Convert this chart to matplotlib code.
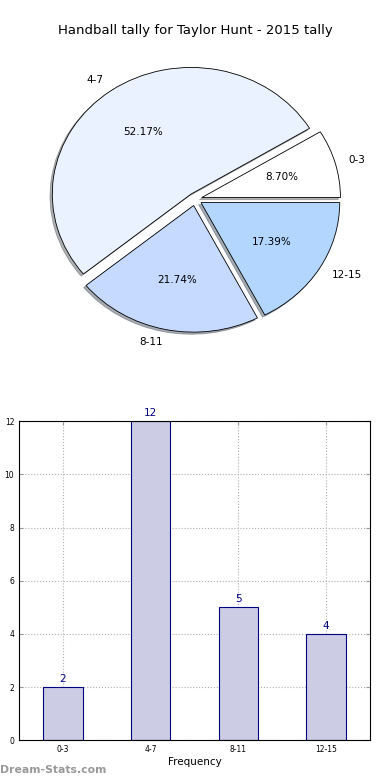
import numpy as np
import matplotlib
matplotlib.use('Agg')
import matplotlib.pyplot as plt


# Data
categories = ['0-3', '4-7', '8-11', '12-15']
counts = [2, 12, 5, 4]
pie_colors = ['#FFFFFF', '#EAF1FF', '#C6D9FF', '#B3D6FF']
explode = [0.05, 0.05, 0.05, 0.05]

fig = plt.figure(figsize=(3.9, 7.8), dpi=100)

# Pie chart (slightly elliptical, like the original)
ax1 = fig.add_axes([0.0846, 0.537, 0.831, 0.415])
wedges, texts, autotexts = ax1.pie(counts, labels=categories, colors=pie_colors, explode=explode,
                                   autopct='%1.2f%%', startangle=0,
                                   shadow={'ox': -0.012, 'oy': -0.012, 'shade': 0.6},
                                   wedgeprops={'edgecolor': 'black', 'linewidth': 0.6},
                                   textprops={'fontsize': 7.5})
ax1.set_aspect('auto')
ax1.set_xlim(-1.168, 1.168)
ax1.set_ylim(-1.278, 1.278)
ax1.axis('off')
fig.text(0.5, 0.9615, 'Handball tally for Taylor Hunt - 2015 tally', ha='center', va='center', fontsize=9.5)

# Bar chart
ax2 = fig.add_axes([0.049, 0.051, 0.9, 0.409])
x = np.arange(len(categories))
bars = ax2.bar(x, counts, width=0.45, color='#CCCCE5', edgecolor='navy', linewidth=0.8, zorder=2)
for xi, c in zip(x, counts):
    ax2.text(xi, c + 0.12, str(c), ha='center', va='bottom', fontsize=7.5, color='navy')
ax2.set_xlim(-0.5, 3.5)
ax2.set_ylim(0, 12)
ax2.set_xticks(x)
ax2.set_xticklabels(categories)
ax2.set_yticks(np.arange(0, 13, 2))
ax2.tick_params(labelsize=5.5, direction='in', length=3, top=True, right=True, color='#999999')
ax2.grid(True, linestyle=':', color='#b0b0b0', linewidth=0.8, zorder=0)
ax2.set_xlabel('Frequency', fontsize=7.5, labelpad=2)
ax2.set_ylabel('Statistic Tally', fontsize=7.5, labelpad=4)
for s in ax2.spines.values():
    s.set_linewidth(0.8)

# Watermark
fig.text(0.0, 0.013, 'Dream-Stats.com', fontsize=7.8, color='#999999', fontweight='bold', ha='left', va='center')

fig.savefig('out.png', dpi=100)
